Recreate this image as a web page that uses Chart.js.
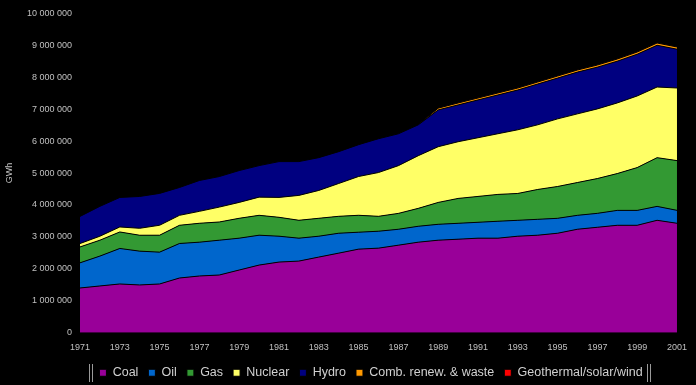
<!DOCTYPE html>
<html>
<head>
<meta charset="utf-8">
<script src="https://cdn.jsdelivr.net/npm/chart.js@4/dist/chart.umd.min.js"></script>
<style>
  html, body { margin: 0; padding: 0; background: #000; }
  #wrap { width: 696px; height: 385px; }
</style>
</head>
<body>
<div id="wrap"><canvas id="c" width="696" height="385"></canvas></div>
<script>
const years = ['1971','1972','1973','1974','1975','1976','1977','1978','1979','1980',
  '1981','1982','1983','1984','1985','1986','1987','1988','1989','1990',
  '1991','1992','1993','1994','1995','1996','1997','1998','1999','2000','2001'];

const coal = [1400000,1464000,1526000,1495000,1526000,1713000,1776000,1807000,1963000,2118000,
  2212000,2243000,2368000,2492000,2617000,2648000,2741000,2835000,2897000,2928000,
  2960000,2960000,3022000,3053000,3115000,3240000,3302000,3364000,3364000,3520000,3427000];
const oil = [788000,935000,1112000,1059000,997000,1081000,1059000,1090000,997000,935000,
  810000,717000,654000,623000,530000,530000,498000,498000,498000,498000,
  498000,530000,498000,498000,467000,436000,436000,467000,467000,436000,405000];
const gas = [498000,498000,517000,498000,530000,570000,592000,570000,623000,623000,
  592000,561000,561000,530000,530000,467000,498000,561000,685000,779000,
  810000,841000,841000,935000,997000,1028000,1090000,1153000,1340000,1526000,1558000];
const nuclear = [106000,125000,156000,218000,312000,312000,374000,467000,498000,570000,
  623000,779000,872000,1028000,1215000,1371000,1495000,1650000,1745000,1776000,
  1838000,1900000,1994000,2025000,2118000,2150000,2181000,2212000,2243000,2212000,2274000];
const hydro = [850000,935000,925000,997000,997000,872000,966000,956000,997000,987000,
  1121000,1059000,1028000,997000,997000,1059000,997000,966000,1153000,1153000,
  1184000,1215000,1246000,1277000,1277000,1308000,1308000,1308000,1308000,1308000,1215000];
const combRenew = [0,0,0,0,0,0,0,0,0,0,
  0,0,0,0,0,0,0,0,55000,60000,
  60000,62000,62000,63000,64000,65000,66000,67000,68000,70000,70000];
const geoSolarWind = [0,0,0,0,0,0,0,0,0,0,
  0,0,0,0,0,0,0,0,5000,5000,
  5000,5000,6000,6000,6000,7000,7000,8000,8000,9000,9000];

const seriesNames = ['Coal','Oil','Gas','Nuclear','Hydro','Comb. renew. & waste','Geothermal/solar/wind'];
const seriesColors = ['#990099','#0066CC','#339933','#FFFF66','#000080','#FF9900','#FF0000'];
const seriesData = [coal, oil, gas, nuclear, hydro, combRenew, geoSolarWind];

const yMax = 10000000;
const yStep = 1000000;

function fmt(v) {
  return String(Math.round(v)).replace(/\B(?=(\d{3})+(?!\d))/g, ' ');
}

const datasets = seriesData.map((d, i) => ({
  label: seriesNames[i],
  data: d,
  backgroundColor: seriesColors[i],
  borderColor: '#000000',
  borderWidth: 1,
  pointRadius: 0,
  tension: 0,
  fill: i === 0 ? 'origin' : '-1'
}));

const LEGEND_SHIFT = 28;

const legendTweak = {
  id: 'legendTweak',
  afterLayout(chart) {
    const lg = chart.legend;
    if (!lg) return;
    lg.left += LEGEND_SHIFT;
    lg.right += LEGEND_SHIFT;
  },
  afterDraw(chart) {
    const lg = chart.legend;
    if (!lg || !lg.lineWidths || !lg.lineWidths.length) return;
    const pad = lg.options.labels.padding;
    const lw = lg.lineWidths[0];
    const start = (lg.left + pad + lg.right - lw) / 2;
    const end = start + lw - pad;
    const hb = lg.legendHitBoxes || [];
    let t = lg.top + pad, b = lg.top + pad + 12;
    if (hb.length) { t = hb[0].top; b = hb[0].top + hb[0].height; }
    const ctx = chart.ctx;
    ctx.save();
    ctx.strokeStyle = '#9a9a9a';
    ctx.lineWidth = 1;
    const x1 = Math.round(start - 10) + 0.5, x2 = Math.round(end + 4) + 0.5;
    const y1 = Math.round(t - 3), y2 = Math.round(b + 3);
    [x1, x1 + 3, x2, x2 + 3].forEach(x => {
      ctx.beginPath(); ctx.moveTo(x, y1); ctx.lineTo(x, y2); ctx.stroke();
    });
    ctx.restore();
  }
};

new Chart(document.getElementById('c'), {
  type: 'line',
  data: { labels: years, datasets },
  plugins: [legendTweak],
  options: {
    responsive: false,
    animation: false,
    layout: { padding: { left: 4, right: 14, top: 8, bottom: -4 } },
    plugins: {
      legend: {
        position: 'bottom',
        labels: {
          color: '#d0d0d0',
          font: { family: 'Liberation Sans', size: 12.5 },
          boxWidth: 7,
          boxHeight: 7,
          padding: 10
        }
      },
      tooltip: { enabled: false }
    },
    scales: {
      x: {
        grid: { display: false, drawTicks: false },
        border: { display: false },
        ticks: {
          color: '#c0c0c0',
          font: { family: 'Liberation Sans', size: 9 },
          autoSkip: false,
          maxRotation: 0,
          padding: 9,
          callback: function(v, i) { return i % 2 === 0 ? this.getLabelForValue(v) : ''; }
        },
        afterFit(scale) { scale.height -= 5; }
      },
      y: {
        stacked: true,
        min: 0,
        max: yMax,
        grid: { display: false, drawTicks: false },
        border: { display: false },
        title: {
          display: true,
          text: 'GWh',
          color: '#c0c0c0',
          font: { family: 'Liberation Sans', size: 9 },
          padding: 0
        },
        ticks: {
          stepSize: yStep,
          color: '#c0c0c0',
          font: { family: 'Liberation Sans', size: 9 },
          padding: 8,
          callback: v => fmt(v)
        },
        afterFit(scale) { scale.width = 76; }
      }
    }
  }
});
</script>
</body>
</html>
